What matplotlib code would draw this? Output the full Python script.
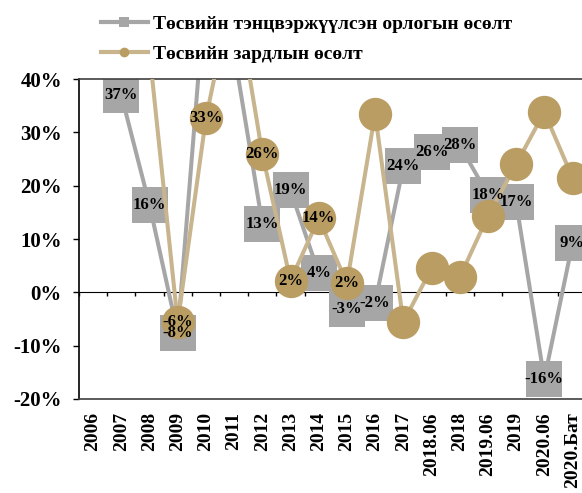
import numpy as np
import matplotlib
matplotlib.use('Agg')
import matplotlib.pyplot as plt
from matplotlib.lines import Line2D
import matplotlib.ticker as mticker

# Data (percent growth), NaN where the point is off the chart / missing
categories = ['2006', '2007', '2008', '2009', '2010', '2011', '2012', '2013', '2014',
              '2015', '2016', '2017', '2018.06', '2018', '2019.06', '2019', '2020.06',
              '2020.Бат']
revenue_growth = [np.nan, 37.0, 16.4, -7.6, 58.0, 45.0, 12.9, 19.1, 3.6, -3.1, -2.0,
                  23.6, 26.3, 27.6, 18.3, 16.9, -16.3, 9.2]
expense_growth = [np.nan, np.nan, 45.0, -5.6, 32.6, 58.0, 26.0, 2.2, 13.9, 1.7, 33.5,
                  -5.6, 4.5, 2.8, 14.3, 24.0, 33.8, 21.5]
expense_label_last = '2015'   # expense points are labelled only up to this category

revenue_name = 'Төсвийн тэнцвэржүүлсэн орлогын өсөлт'
expense_name = 'Төсвийн зардлын өсөлт'

y_min, y_max = -20, 40

plt.rcParams['axes.unicode_minus'] = False
serif = ['Liberation Serif', 'DejaVu Serif']

gray = '#A6A6A6'
tan_line = '#C8B48D'
tan_marker = '#B99D63'

fig = plt.figure(figsize=(5.82, 4.93), dpi=100)
ax = fig.add_axes([79 / 582, 1 - 399 / 493, 507.6 / 582, 320 / 493])

x = np.arange(len(categories))
ax.plot(x, revenue_growth, color=gray, lw=2.9, marker='s', markersize=26.5,
        markerfacecolor=gray, markeredgecolor=gray, markeredgewidth=0, zorder=2)
ax.plot(x, expense_growth, color=tan_line, lw=2.9, marker='o', markersize=24,
        markerfacecolor=tan_marker, markeredgecolor=tan_marker, markeredgewidth=0, zorder=3)

ax.set_xlim(-0.5, len(categories) - 0.5)
ax.set_ylim(y_min, y_max)


def visible(v):
    return not np.isnan(v) and y_min <= v <= y_max


# data labels
last_idx = categories.index(expense_label_last)
for i, v in enumerate(revenue_growth):
    if visible(v):
        ax.text(i, v, f'{v:.0f}%', ha='center', va='center', fontsize=12,
                fontweight='bold', family=serif, zorder=5)
for i, v in enumerate(expense_growth):
    if visible(v) and i <= last_idx:
        ax.text(i, v, f'{v:.0f}%', ha='center', va='center', fontsize=12,
                fontweight='bold', family=serif, zorder=5)

# axes styling
ax.set_yticks(np.arange(y_min, y_max + 1, 10))
ax.yaxis.set_major_formatter(mticker.FuncFormatter(lambda v, p: f'{v:.0f}%'))
ax.tick_params(axis='y', length=4.3, width=1, direction='out', pad=8,
               labelsize=15, colors='black')
for lab in ax.get_yticklabels():
    lab.set_fontweight('bold')
    lab.set_family(serif)

ax.set_xticks(x)
ax.set_xticklabels(categories, rotation=90, fontsize=14, fontweight='bold', family=serif)
ax.tick_params(axis='x', length=0, pad=9.5)

ax.spines['right'].set_visible(False)
ax.spines['left'].set_color('black')
ax.spines['top'].set_color('#404040')
ax.spines['bottom'].set_color('#404040')
for s in ['left', 'top', 'bottom']:
    ax.spines[s].set_linewidth(1.2)

# zero line with tick marks between categories
zero_axis = ax.secondary_xaxis((0 - y_min) / (y_max - y_min))
zero_axis.set_xticks(np.arange(-0.5, len(categories), 1))
zero_axis.tick_params(length=3, width=1, direction='out', labelbottom=False,
                      labeltop=False, colors='black')
zero_axis.spines['bottom'].set_color('black')
zero_axis.spines['top'].set_visible(False)

# legend
handles = [
    Line2D([], [], color=gray, lw=3, marker='s', markersize=7,
           markerfacecolor=gray, markeredgewidth=0),
    Line2D([], [], color=tan_line, lw=3, marker='o', markersize=7,
           markerfacecolor=tan_marker, markeredgewidth=0),
]
fig.legend(handles, [revenue_name, expense_name], loc='upper left',
           bbox_to_anchor=(101 / 582, 1 - 15 / 493), frameon=False, borderpad=0,
           borderaxespad=0, handlelength=2.4, handletextpad=0.25, labelspacing=0.66,
           prop={'family': serif, 'weight': 'bold', 'size': 14})

fig.savefig('out.png', dpi=100)
